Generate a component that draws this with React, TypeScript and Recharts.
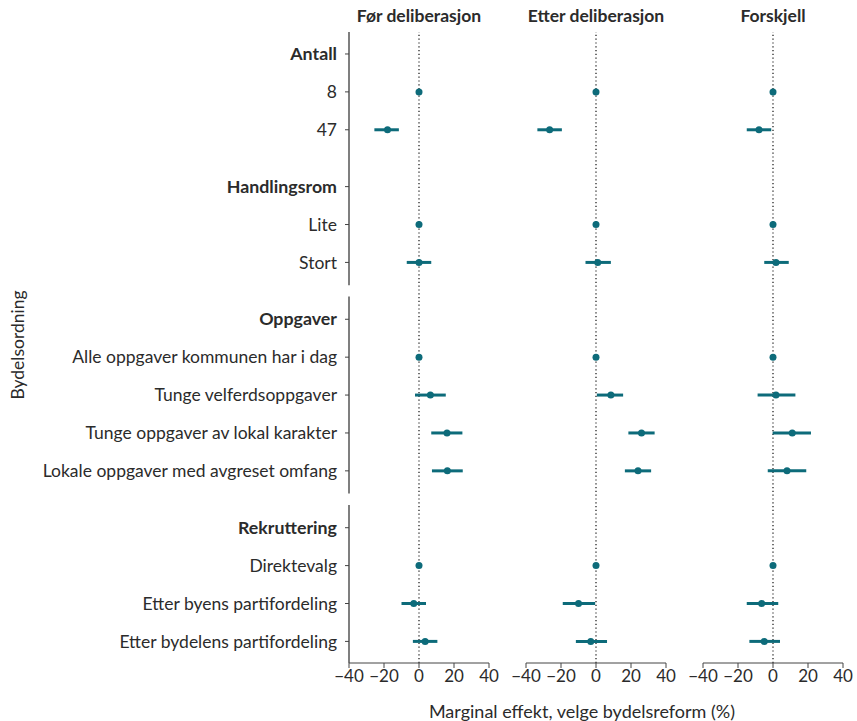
import {
  ScatterChart,
  Scatter,
  XAxis,
  YAxis,
  ErrorBar,
  ReferenceLine,
} from "recharts";

// row groups: bold header followed by its levels
const groupHeaders = ["Antall", "Handlingsrom", "Oppgaver", "Rekruttering"];
const groupItems = [
  ["8", "47"],
  ["Lite", "Stort"],
  [
    "Alle oppgaver kommunen har i dag",
    "Tunge velferdsoppgaver",
    "Tunge oppgaver av lokal karakter",
    "Lokale oppgaver med avgreset omfang",
  ],
  ["Direktevalg", "Etter byens partifordeling", "Etter bydelens partifordeling"],
];

const panelTitles = ["Før deliberasjon", "Etter deliberasjon", "Forskjell"];
const xTicks = [-40, -20, 0, 20, 40];

// estimates and 95% intervals, one entry per level (reference levels = 0)
const beforeEst = [0, -18, 0, 0, 0, 6.5, 16, 16.2, 0, -3, 3.5];
const beforeLow = [0, -25.5, 0, -7, 0, -2.3, 7, 7.4, 0, -10, -3.5];
const beforeHigh = [0, -11.5, 0, 7, 0, 15.3, 24.8, 25, 0, 4, 10.5];

const afterEst = [0, -26.5, 0, 1, 0, 8.5, 26, 24, 0, -10, -3];
const afterLow = [0, -33.5, 0, -6, 0, 0.5, 18.5, 16.5, 0, -19, -11.5];
const afterHigh = [0, -19.5, 0, 8.5, 0, 15.5, 33.5, 31.5, 0, -0.5, 6.3];

const diffEst = [0, -8, 0, 1.7, 0, 1.7, 11, 8, 0, -6.5, -5];
const diffLow = [0, -15, 0, -5, 0, -8.8, -0.2, -3, 0, -15, -13.5];
const diffHigh = [0, -1, 0, 9, 0, 12.8, 21.7, 19, 0, 3, 4];

const TEAL = "#0d6b7a";
const FONT = "Lato, 'Open Sans', sans-serif";
const TEXT = "#2b2b2b";

// lay rows out top to bottom, half a row of space between groups
type Row = { label: string; pos: number; header: boolean };
const rows: Row[] = [];
const itemPos: number[] = [];
let cursor = 0;
groupHeaders.forEach((h, g) => {
  if (g > 0) cursor += 0.5;
  rows.push({ label: h, pos: cursor, header: true });
  cursor += 1;
  groupItems[g].forEach((it) => {
    rows.push({ label: it, pos: cursor, header: false });
    itemPos.push(cursor);
    cursor += 1;
  });
});
const yDomain: [number, number] = [-0.58, 16.07];
const rowTicks = rows.map((r) => r.pos);

function makeData(est: number[], low: number[], high: number[]) {
  return est.map((e, i) => ({
    pos: itemPos[i],
    est: e,
    err: [e - low[i], high[i] - e],
  }));
}

const panels = [
  makeData(beforeEst, beforeLow, beforeHigh),
  makeData(afterEst, afterLow, afterHigh),
  makeData(diffEst, diffLow, diffHigh),
];

const fmt = (v: number) => String(v).replace("-", "\u2212");

function Dot(props: any) {
  return <circle cx={props.cx} cy={props.cy} r={3.5} fill={TEAL} />;
}

function RowTick(props: any) {
  const { x, y, payload } = props;
  const row = rows.find((r) => r.pos === payload.value);
  if (!row) return null;
  return (
    <text
      x={x}
      y={y}
      dy="0.35em"
      textAnchor="end"
      fontFamily={FONT}
      fontSize={row.header ? 17.8 : 17.5}
      fontWeight={row.header ? 700 : 400}
      fill={TEXT}
    >
      {row.label}
    </text>
  );
}

// y-axis line, broken between the groups that are set apart
const axisSegments: [number, number][] = [
  [-0.58, 6.1],
  [6.4, 11.6],
  [11.9, 16.07],
];

type PanelProps = {
  index: number;
  left: number;
  width: number;
  margin: { left: number; right: number };
};

function Panel({ index, left, width, margin }: PanelProps) {
  const first = index === 0;
  return (
    <div style={{ position: "absolute", left, top: 0 }}>
      <ScatterChart
        width={width}
        height={721}
        margin={{ top: 32, bottom: 0, left: margin.left, right: margin.right }}
      >
        <XAxis
          type="number"
          dataKey="est"
          domain={[-40, 40]}
          ticks={xTicks}
          tickFormatter={fmt}
          height={58}
          stroke="#444"
          tickSize={5}
          tick={{ fontFamily: FONT, fontSize: 17, fill: TEXT }}
        />
        <YAxis
          type="number"
          dataKey="pos"
          reversed
          domain={yDomain}
          ticks={rowTicks}
          interval={0}
          hide={!first}
          width={first ? 349 : 0}
          axisLine={false}
          tickLine={{ stroke: "#444" }}
          tickSize={4}
          tickMargin={8}
          tick={<RowTick />}
        />
        {first &&
          axisSegments.map(([a, b], i) => (
            <ReferenceLine
              key={i}
              segment={[
                { x: -40, y: a },
                { x: -40, y: b },
              ]}
              stroke="#555"
              strokeWidth={1.5}
              ifOverflow="visible"
            />
          ))}
        <ReferenceLine x={0} stroke="#111" strokeWidth={1.2} strokeDasharray="1.2 2.6" />
        <Scatter data={panels[index]} shape={<Dot />} isAnimationActive={false}>
          <ErrorBar
            dataKey="err"
            direction="x"
            width={0}
            stroke={TEAL}
            strokeWidth={3}
          />
        </Scatter>
      </ScatterChart>
    </div>
  );
}

export default function App() {
  const titleCenters = [419, 596, 773];
  return (
    <div
      style={{
        position: "absolute",
        left: 0,
        top: 0,
        width: 857,
        height: 721,
        background: "#fff",
        fontFamily: FONT,
        color: TEXT,
      }}
    >
      <Panel index={0} left={0} width={500} margin={{ left: 0, right: 11 }} />
      <Panel index={1} left={500} width={180} margin={{ left: 26, right: 14 }} />
      <Panel index={2} left={680} width={177} margin={{ left: 23, right: 14 }} />
      {panelTitles.map((t, i) => (
        <div
          key={t}
          style={{
            position: "absolute",
            top: 5,
            left: titleCenters[i] - 100,
            width: 200,
            textAlign: "center",
            fontSize: 17.5,
            fontWeight: 700,
          }}
        >
          {t}
        </div>
      ))}
      <div
        style={{
          position: "absolute",
          left: 582,
          top: 711,
          transform: "translate(-50%, -50%)",
          fontSize: 18,
          whiteSpace: "nowrap",
        }}
      >
        Marginal effekt, velge bydelsreform (%)
      </div>
      <div
        style={{
          position: "absolute",
          left: 17,
          top: 345,
          transform: "translate(-50%, -50%) rotate(-90deg)",
          fontSize: 17.5,
          whiteSpace: "nowrap",
        }}
      >
        Bydelsordning
      </div>
    </div>
  );
}
